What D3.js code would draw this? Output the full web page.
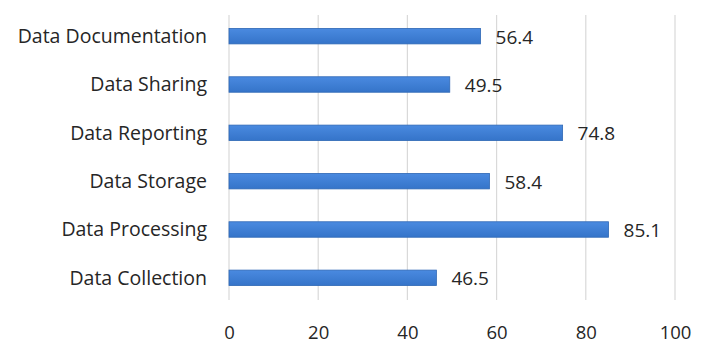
<!DOCTYPE html>
<html>
<head>
<meta charset="utf-8">
<script src="https://cdn.jsdelivr.net/npm/d3@7"></script>
<style>
  html, body { margin: 0; padding: 0; background: #ffffff; }
  svg text { font-family: "Open Sans", Lato, sans-serif; fill: #262626; }
</style>
</head>
<body>
<svg id="chart" width="701" height="343"></svg>
<script>
// Stages of the data lifecycle, top to bottom
const categories = ["Data Documentation", "Data Sharing", "Data Reporting", "Data Storage", "Data Processing", "Data Collection"];
const values = [56.4, 49.5, 74.8, 58.4, 85.1, 46.5];
const tickValues = [0, 20, 40, 60, 80, 100];

const svg = d3.select("#chart");
const margin = { left: 229, right: 26, top: 12, bottom: 41 };
const width = 701, height = 343;

const x = d3.scaleLinear().domain([0, 100]).range([margin.left, width - margin.right]);
const y = d3.scaleBand().domain(categories).range([margin.top, height - margin.bottom]).paddingInner(0.68).paddingOuter(0.34);

// Vertical gridlines
svg.append("g")
  .selectAll("line")
  .data(tickValues)
  .join("line")
  .attr("x1", d => x(d)).attr("x2", d => x(d))
  .attr("y1", 15).attr("y2", 300)
  .attr("stroke", "#d9d9d9")
  .attr("stroke-width", 1.2);

// Bars
const grad = svg.append("defs").append("linearGradient")
  .attr("id", "barFill").attr("x1", 0).attr("x2", 0).attr("y1", 0).attr("y2", 1);
grad.append("stop").attr("offset", "0%").attr("stop-color", "#4a8ae0");
grad.append("stop").attr("offset", "100%").attr("stop-color", "#3574c9");

svg.append("g")
  .selectAll("rect")
  .data(categories)
  .join("rect")
  .attr("x", x(0))
  .attr("y", d => y(d))
  .attr("width", (d, i) => x(values[i]) - x(0))
  .attr("height", y.bandwidth())
  .attr("fill", "url(#barFill)")
  .attr("stroke", "#2f68b5")
  .attr("stroke-width", 0.8);

// Value labels
svg.append("g")
  .selectAll("text")
  .data(categories)
  .join("text")
  .attr("x", (d, i) => x(values[i]) + 15)
  .attr("y", d => y(d) + y.bandwidth() / 2 + 1)
  .attr("dy", "0.35em")
  .attr("font-size", 19)
  .text((d, i) => values[i].toFixed(1));

// Category axis labels
svg.append("g")
  .selectAll("text")
  .data(categories)
  .join("text")
  .attr("x", 207)
  .attr("y", d => y(d) + y.bandwidth() / 2)
  .attr("dy", "0.35em")
  .attr("text-anchor", "end")
  .attr("font-size", 19.5)
  .text(d => d);

// Value axis
const xAxis = d3.axisBottom(x).tickValues(tickValues).tickSize(0).tickPadding(0);
const gx = svg.append("g").attr("transform", "translate(0,326)").call(xAxis);
gx.select(".domain").remove();
gx.selectAll("text")
  .attr("font-size", 18.5)
  .attr("font-family", "'Open Sans', Lato, sans-serif")
  .attr("fill", "#262626");
</script>
</body>
</html>
